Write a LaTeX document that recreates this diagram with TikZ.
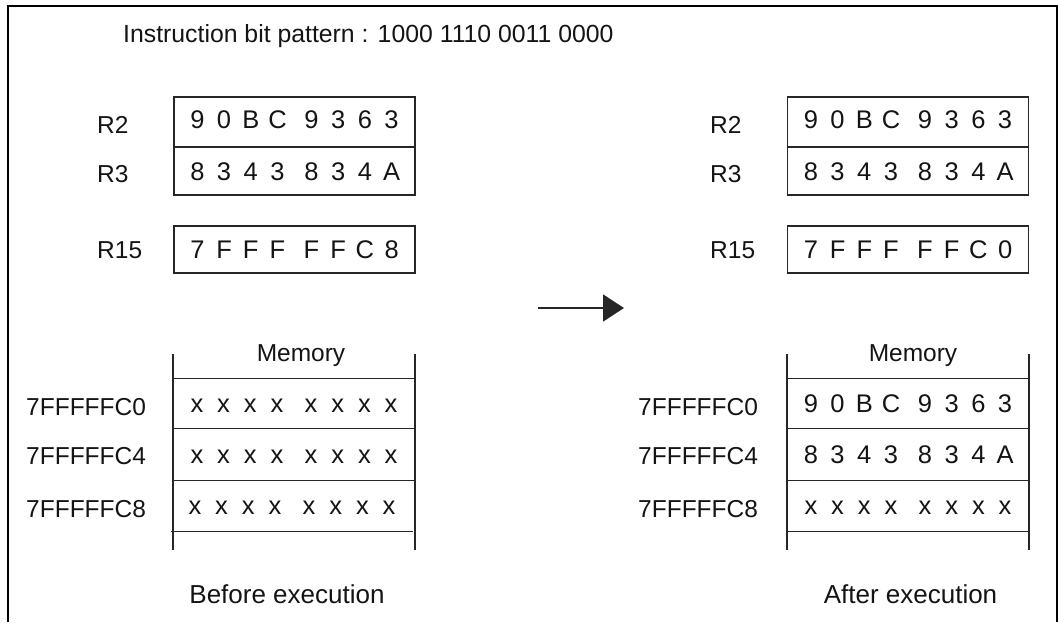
\documentclass[tikz,border=0pt]{standalone}
\usepackage{fontspec}
\setmainfont{Liberation Sans}
\usetikzlibrary{arrows.meta}
\definecolor{ink}{HTML}{141414}
\definecolor{linec}{HTML}{262626}
\newcommand\hexrow[8]{\makebox[26.7pt]{#1}\makebox[26.7pt]{#2}\makebox[26.7pt]{#3}\makebox[26.7pt]{#4}\hspace{7.3pt}\makebox[26.7pt]{#5}\makebox[26.7pt]{#6}\makebox[26.7pt]{#7}\makebox[26.7pt]{#8}}
\begin{document}
\begin{tikzpicture}[x=1pt,y=-1pt,
  lbl/.style={text=ink,inner sep=0pt,font=\fontsize{24.5}{28}\selectfont,anchor=base west},
  captext/.style={text=ink,inner sep=0pt,font=\fontsize{26}{30}\selectfont,anchor=base},
  reg/.style={draw=linec,line width=1.3pt,minimum width=241pt,inner sep=0pt,text=ink,
     text height=19pt,text depth=0.5pt,font=\fontsize{25.5}{28}\selectfont},
  cell/.style={minimum width=242pt,inner sep=0pt,text=ink,
     text height=19pt,text depth=0.5pt,font=\fontsize{25.5}{28}\selectfont},
  boxline/.style={draw=linec,line width=1.3pt},
  frame/.style={draw=black,line width=2pt}]
\useasboundingbox (0,0) rectangle (1058,622);
% frame
\coordinate (fbl) at (7.5,622);
\coordinate (ftl) at (7.5,5.5);
\coordinate (ftr) at (1056.5,5.5);
\coordinate (fbr) at (1056.5,622);
\draw[frame] (fbl) -- (ftl) -- (ftr) -- (fbr);
% title
\node[lbl,font=\fontsize{24.8}{28}\selectfont] (title) at (123,42) {Instruction bit pattern : 1000 1110 0011 0000};
% ---------- before ----------
\node[reg,minimum height=50pt,text height=14pt,text depth=2pt] (r2a) at (294.5,122) {\hexrow 90BC9363};
\node[reg,minimum height=48pt] (r3a) at (294.5,171) {\hexrow 8343834A};
\node[reg,minimum height=47pt] (r15a) at (294.5,249.5) {\hexrow 7FFFFFC8};
\node[lbl] (l2a) at (97,133) {R2};
\node[lbl] (l3a) at (97,182) {R3};
\node[lbl] (l15a) at (97,258) {R15};
\node[lbl,anchor=base] (mema) at (301,361.5) {Memory};
\node[cell,minimum height=49pt] (m1a) at (294,403.5) {\hexrow xxxxxxxx};
\node[cell,minimum height=52pt] (m2a) at (294,454) {\hexrow xxxxxxxx};
\node[cell,minimum height=51pt] (m3a) at (292,505.5) {\hexrow xxxxxxxx};
\coordinate (vat1) at (173,354);
\coordinate (vab1) at (173,550);
\coordinate (vat2) at (415,354);
\coordinate (vab2) at (415,550);
\draw[boxline] (vat1) -- (vab1);
\draw[boxline] (vat2) -- (vab2);
\draw[boxline] (m1a.north west) -- (m1a.north east);
\draw[boxline] (m1a.south west) -- (m1a.south east);
\draw[boxline] (m2a.south west) -- (m2a.south east);
\draw[boxline] (m3a.south west) -- (m3a.south east);
\node[lbl] (aa1) at (26,415) {7FFFFFC0};
\node[lbl] (aa2) at (26,464) {7FFFFFC4};
\node[lbl] (aa3) at (26,517) {7FFFFFC8};
\node[captext] (before) at (287,603) {Before execution};
% ---------- arrow ----------
\coordinate (arS) at (538,308);
\coordinate (arE) at (624,308);
\draw[line width=1.8pt,draw=linec,-{Triangle[length=21pt,width=27pt]}] (arS) -- (arE);
% ---------- after ----------
\node[reg,minimum height=50pt,text height=14pt,text depth=2pt] (r2b) at (908,122) {\hexrow 90BC9363};
\node[reg,minimum height=48pt] (r3b) at (908,171) {\hexrow 8343834A};
\node[reg,minimum height=47pt] (r15b) at (908,249.5) {\hexrow 7FFFFFC0};
\node[lbl] (l2b) at (710,133) {R2};
\node[lbl] (l3b) at (710,182) {R3};
\node[lbl] (l15b) at (710,258) {R15};
\node[lbl,anchor=base] (memb) at (913,361.5) {Memory};
\node[cell,minimum height=49pt] (m1b) at (908,403.5) {\hexrow 90BC9363};
\node[cell,minimum height=52pt] (m2b) at (908,454) {\hexrow 8343834A};
\node[cell,minimum height=51pt] (m3b) at (908,505.5) {\hexrow xxxxxxxx};
\coordinate (vbt1) at (787,354);
\coordinate (vbb1) at (787,550);
\coordinate (vbt2) at (1029,354);
\coordinate (vbb2) at (1029,550);
\draw[boxline] (vbt1) -- (vbb1);
\draw[boxline] (vbt2) -- (vbb2);
\draw[boxline] (m1b.north west) -- (m1b.north east);
\draw[boxline] (m1b.south west) -- (m1b.south east);
\draw[boxline] (m2b.south west) -- (m2b.south east);
\draw[boxline] (m3b.south west) -- (m3b.south east);
\node[lbl] (ab1) at (638,415) {7FFFFFC0};
\node[lbl] (ab2) at (638,464) {7FFFFFC4};
\node[lbl] (ab3) at (638,517) {7FFFFFC8};
\node[captext] (after) at (910.5,603) {After execution};
\end{tikzpicture}
\end{document}
